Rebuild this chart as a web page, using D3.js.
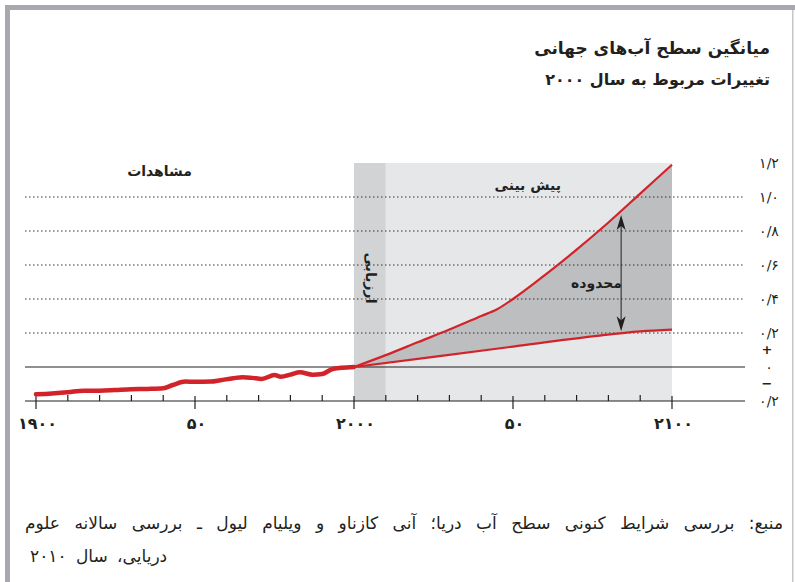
<!DOCTYPE html>
<html><head><meta charset="utf-8">
<script src="https://cdn.jsdelivr.net/npm/d3@7"></script>
<style>
html,body{margin:0;padding:0;background:#fff;}
svg{display:block;}
text{font-family:"DejaVu Sans","Noto Sans",sans-serif;}
</style></head>
<body>
<script>
// ---- data ----
const obsYears  = [1900,1905,1910,1915,1920,1925,1930,1935,1940,1943,1947,1950,1955,1958,1962,1965,1968,1971,1975,1977,1980,1983,1987,1990,1993,1996,2000];
const obsValues = [-0.161,-0.156,-0.149,-0.139,-0.139,-0.135,-0.131,-0.129,-0.125,-0.106,-0.086,-0.087,-0.086,-0.078,-0.066,-0.060,-0.064,-0.070,-0.047,-0.057,-0.045,-0.031,-0.045,-0.041,-0.014,-0.005,0];
const projYears = [2000,2010,2020,2030,2040,2045,2050,2060,2070,2080,2090,2100];
const projHigh  = [0,0.07,0.145,0.22,0.30,0.34,0.40,0.54,0.69,0.85,1.02,1.19];
const projLowYears = [2000,2025,2050,2075,2090,2100];
const projLow      = [0,0.06,0.12,0.18,0.21,0.22];
const evalPeriod = [2000,2010];
const projPeriod = [2010,2100];
const yTicks = [-0.2,0,0.2,0.4,0.6,0.8,1.0,1.2];
const yTickLabels = ["۰/۲","۰","۰/۲","۰/۴","۰/۶","۰/۸","۱/۰","۱/۲"];
const xMajor = [1900,1950,2000,2050,2100];
const xMajorLabels = ["۱۹۰۰","۵۰","۲۰۰۰","۵۰","۲۱۰۰"];
const xMinor = d3.range(1900,2101,10);
const arrowYear = 2084;
const title1 = "میانگین سطح آب\u200Cهای جهانی";
const title2 = "تغییرات مربوط به سال ۲۰۰۰";
const labelObs = "مشاهدات";
const labelProj = "پیش بینی";
const labelEval = "ارزیابی";
const labelRange = "محدوده";
const source1 = "منبع: بررسی شرایط کنونی سطح آب دریا؛ آنی کازناو و ویلیام لیول ـ بررسی سالانه علوم";
const source2 = "دریایی، سال ۲۰۱۰";

// ---- layout ----
const W=795,H=582;
const svg=d3.select("body").append("svg").attr("width",W).attr("height",H);
const x=d3.scaleLinear().domain([1900,2100]).range([36,672]);
const y=d3.scaleLinear().domain([-0.2,1.2]).range([401,163]);
const xL=25, xR=745;
const ink="#231f20";

// frame
svg.append("rect").attr("x",5).attr("y",5).attr("width",5).attr("height",H-5).attr("fill","#a7a9ac");
svg.append("rect").attr("x",5).attr("y",5).attr("width",W-5).attr("height",5).attr("fill","#a7a9ac");
svg.append("rect").attr("x",792).attr("y",10).attr("width",1.5).attr("height",H-10).attr("fill","#c4c6c8");

// titles
svg.append("text").attr("x",770).attr("y",54).attr("direction","rtl").attr("text-anchor","start")
  .attr("font-size",17).attr("font-weight","bold").attr("fill",ink).text(title1);
svg.append("text").attr("x",770).attr("y",85).attr("direction","rtl").attr("text-anchor","start")
  .attr("font-size",16).attr("font-weight","bold").attr("fill",ink).text(title2);

// bands
svg.append("rect").attr("x",x(evalPeriod[0])).attr("y",y(1.2)).attr("width",x(evalPeriod[1])-x(evalPeriod[0]))
  .attr("height",y(-0.2)-y(1.2)).attr("fill","#d1d3d4");
svg.append("rect").attr("x",x(projPeriod[0])).attr("y",y(1.2)).attr("width",x(projPeriod[1])-x(projPeriod[0]))
  .attr("height",y(-0.2)-y(1.2)).attr("fill","#e6e7e8");

// range area
const hi=d3.scaleLinear().domain(projYears).range(projHigh);
const lo=d3.scaleLinear().domain(projLowYears).range(projLow);
const allYears=Array.from(new Set(projYears.concat(projLowYears))).sort((a,b)=>a-b);
svg.append("path").datum(allYears)
  .attr("d",d3.area().x(d=>x(d)).y0(d=>y(lo(d))).y1(d=>y(hi(d))))
  .attr("fill","#bcbec0");

// grid lines
yTicks.filter(v=>v>0 && v<1.2).forEach(v=>{
  svg.append("line").attr("x1",xL).attr("x2",xR).attr("y1",y(v)).attr("y2",y(v))
    .attr("stroke","#333").attr("stroke-width",1).attr("stroke-dasharray","1.5,2.5");
});
svg.append("line").attr("x1",xL).attr("x2",xR).attr("y1",y(0)).attr("y2",y(0)).attr("stroke",ink).attr("stroke-width",1.2);
svg.append("line").attr("x1",xL).attr("x2",xR).attr("y1",y(-0.2)).attr("y2",y(-0.2)).attr("stroke",ink).attr("stroke-width",1.2);

// x ticks
xMinor.forEach(t=>{
  const major=xMajor.includes(t);
  svg.append("line").attr("x1",x(t)).attr("x2",x(t))
    .attr("y1",y(-0.2)-(major?5:6)).attr("y2",y(-0.2)+(major?8:0))
    .attr("stroke",ink).attr("stroke-width",1.2);
});
xMajor.forEach((t,i)=>{
  svg.append("text").attr("x",x(t)+1.5).attr("y",429).attr("text-anchor","middle")
    .attr("font-size",16).attr("font-weight","bold").attr("letter-spacing",3).attr("fill",ink).text(xMajorLabels[i]);
});

// y labels
yTicks.forEach((v,i)=>{
  svg.append("text").attr("x",769).attr("y",y(v)+5).attr("text-anchor","middle")
    .attr("font-size",14).attr("letter-spacing",1.5).attr("fill",ink).text(yTickLabels[i]);
});
svg.append("text").attr("x",767).attr("y",y(0)-13).attr("text-anchor","middle").attr("font-size",13).attr("font-weight","bold").attr("fill",ink).text("+");
svg.append("text").attr("x",767).attr("y",y(0)+21).attr("text-anchor","middle").attr("font-size",13).attr("font-weight","bold").attr("fill",ink).text("−");

// lines
const red="#d2232a";
svg.append("path").datum(projYears.map((d,i)=>[d,projHigh[i]]))
  .attr("d",d3.line().x(d=>x(d[0])).y(d=>y(d[1])).curve(d3.curveMonotoneX))
  .attr("fill","none").attr("stroke",red).attr("stroke-width",2.2);
svg.append("path").datum(projLowYears.map((d,i)=>[d,projLow[i]]))
  .attr("d",d3.line().x(d=>x(d[0])).y(d=>y(d[1])).curve(d3.curveMonotoneX))
  .attr("fill","none").attr("stroke",red).attr("stroke-width",2.2);
svg.append("path").datum(obsYears.map((d,i)=>[d,obsValues[i]]))
  .attr("d",d3.line().x(d=>x(d[0])).y(d=>y(d[1])).curve(d3.curveMonotoneX))
  .attr("fill","none").attr("stroke",red).attr("stroke-width",4.5).attr("stroke-linecap","round");

// arrow
const ax=x(arrowYear), ay1=y(hi(arrowYear))+4, ay2=y(lo(arrowYear))-2;
svg.append("line").attr("x1",ax).attr("x2",ax).attr("y1",ay1+8).attr("y2",ay2-8).attr("stroke",ink).attr("stroke-width",1);
svg.append("path").attr("d",`M${ax},${ay1} L${ax-4.5},${ay1+15} L${ax},${ay1+11} L${ax+4.5},${ay1+15} Z`).attr("fill",ink);
svg.append("path").attr("d",`M${ax},${ay2} L${ax-4.5},${ay2-15} L${ax},${ay2-11} L${ax+4.5},${ay2-15} Z`).attr("fill",ink);

// labels
svg.append("text").attr("x",192).attr("y",176).attr("direction","rtl").attr("text-anchor","start")
  .attr("font-size",14).attr("font-weight","bold").attr("fill",ink).text(labelObs);
svg.append("text").attr("x",561).attr("y",190).attr("direction","rtl").attr("text-anchor","start")
  .attr("font-size",14).attr("font-weight","bold").attr("fill",ink).text(labelProj);
svg.append("text").attr("x",622).attr("y",288).attr("direction","rtl").attr("text-anchor","start")
  .attr("font-size",14).attr("font-weight","bold").attr("fill",ink).text(labelRange);
svg.append("text").attr("transform",`translate(${x(2005)-4},278) rotate(90)`).attr("direction","rtl").attr("text-anchor","middle")
  .attr("font-size",14).attr("font-weight","bold").attr("fill",ink).text(labelEval);

// source
svg.append("text").attr("x",783).attr("y",529).attr("direction","rtl").attr("text-anchor","start")
  .attr("font-size",17).attr("word-spacing",9).attr("fill",ink).text(source1);
svg.append("text").attr("x",30).attr("y",562).attr("direction","rtl").attr("text-anchor","end")
  .attr("font-size",17).attr("word-spacing",4).attr("fill",ink).text(source2);
</script>
</body></html>
